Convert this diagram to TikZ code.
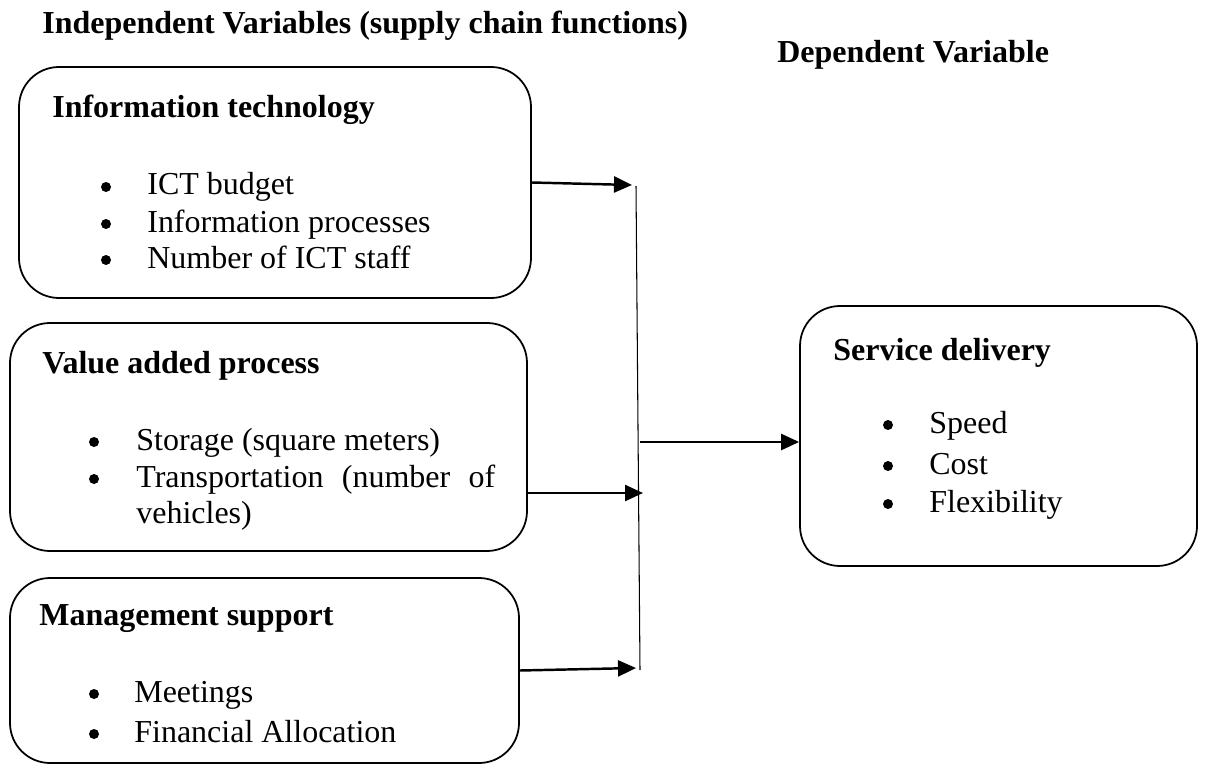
\documentclass[tikz,border=0pt]{standalone}
\usepackage{fontspec}
\setmainfont{Liberation Serif}
\usepackage{tikz}
\usetikzlibrary{arrows.meta,positioning,calc}
\newcommand{\bodysize}{\fontsize{18.2pt}{22pt}\selectfont}

\begin{document}
\begin{tikzpicture}[
  >={Triangle[length=0.36cm,width=0.32cm]},
  box/.style={draw,line width=1pt,rounded corners=0.8cm,inner sep=0pt},
  head/.style={font=\bodysize\bfseries,anchor=base west,inner sep=0pt},
  itm/.style={font=\bodysize,anchor=base west,inner sep=0pt},
  dot/.style={circle,fill,inner sep=0pt,minimum size=0.2cm},
  arr/.style={->,line width=1.4pt}
]
  \useasboundingbox (0,0) rectangle (24.1,-15.3);

  % Titles
  \node[head] (indep) at (0.84,-0.68) {Independent Variables (supply chain functions)};
  \node[head] (dep) at (15.54,-1.26) {Dependent Variable};

  % Information technology
  \node[box,minimum width=10.24cm,minimum height=4.62cm] (it) at (5.5,-3.65) {};
  \node[head] (it-h) at (1.04,-2.36) {Information technology};
  \foreach \y/\t [count=\i] in {-3.9/ICT budget,-4.64/Information processes,-5.36/Number of ICT staff} {
    \node[dot] (it-b\i) at (2.12,\y+0.16) {};
    \node[itm] (it-t\i) at (2.94,\y) {\t};
  }

  % Value added process
  \node[box,minimum width=10.34cm,minimum height=4.56cm] (vap) at (5.37,-8.74) {};
  \node[head] (vap-h) at (0.84,-7.46) {Value added process};
  \node[dot] (vap-b1) at (1.88,-8.84) {};
  \node[itm] (vap-t1) at (2.72,-9.0) {Storage (square meters)};
  \node[dot] (vap-b2) at (1.88,-9.58) {};
  \node[itm] (vap-t2) at (2.72,-9.74) {\makebox[7.18cm][s]{Transportation (number of}};
  \node[itm] (vap-t3) at (2.72,-10.46) {vehicles)};

  % Management support
  \node[box,minimum width=10.18cm,minimum height=3.7cm] (ms) at (5.29,-13.41) {};
  \node[head] (ms-h) at (0.78,-12.5) {Management support};
  \foreach \y/\t [count=\i] in {-14.04/Meetings,-14.84/Financial Allocation} {
    \node[dot] (ms-b\i) at (1.88,\y+0.16) {};
    \node[itm] (ms-t\i) at (2.68,\y) {\t};
  }

  % Service delivery
  \node[box,minimum width=7.94cm,minimum height=5.2cm] (sd) at (19.97,-8.72) {};
  \node[head] (sd-h) at (16.66,-7.2) {Service delivery};
  \foreach \y/\t [count=\i] in {-8.66/Speed,-9.48/Cost,-10.24/Flexibility} {
    \node[dot] (sd-b\i) at (17.76,\y+0.16) {};
    \node[itm] (sd-t\i) at (18.58,\y) {\t};
  }

  % connectors
  \coordinate (t1) at (12.64,-3.7);
  \coordinate (t2) at (12.86,-9.86);
  \coordinate (t3) at (12.72,-13.36);
  \coordinate (bustop) at (12.72,-3.72);
  \coordinate (busbot) at (12.8,-13.4);
  \coordinate (b4) at (12.8,-8.84);
  \draw[line width=0.6pt] (bustop) -- (busbot);
  \draw[arr] (it.east) -- (t1);
  \draw[arr] (vap.east |- t2) -- (t2);
  \draw[arr] (ms.east) -- (t3);
  \draw[arr] (b4) -- (sd.west |- b4);
\end{tikzpicture}
\end{document}
